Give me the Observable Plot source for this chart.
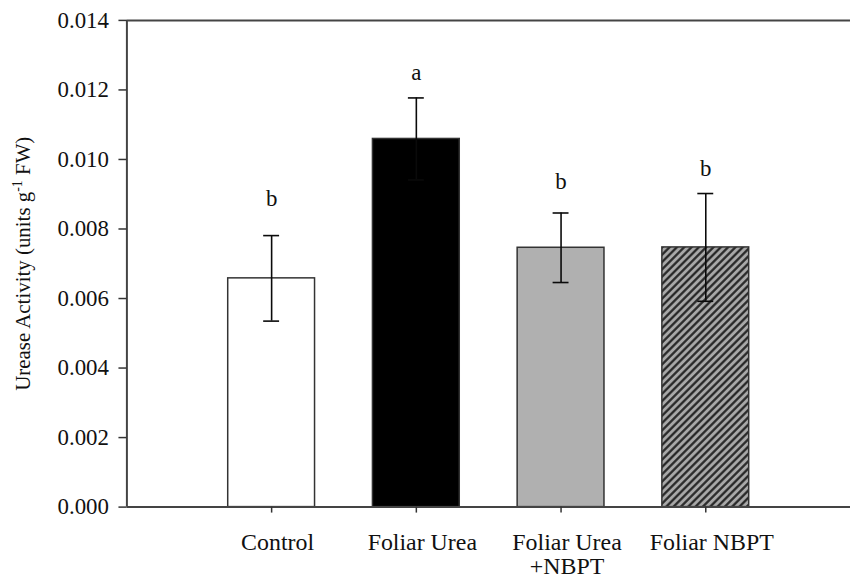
<!DOCTYPE html>
<html>
<head>
<meta charset="utf-8">
<script src="https://cdn.jsdelivr.net/npm/d3@7"></script>
<script src="https://cdn.jsdelivr.net/npm/@observablehq/plot@0.6"></script>
<style>
  html, body { margin: 0; padding: 0; background: #fff; overflow: hidden; }
  #chart { width: 850px; height: 582px; overflow: hidden; }
</style>
</head>
<body>
<svg width="0" height="0" style="position:absolute">
  <defs>
    <pattern id="hatch" patternUnits="userSpaceOnUse" width="5.2" height="5.2" patternTransform="rotate(45)">
      <rect x="0" y="0" width="5.2" height="5.2" fill="#a8a8a8"></rect>
      <line x1="1.3" y1="0" x2="1.3" y2="5.2" stroke="#222" stroke-width="2.2"></line>
    </pattern>
  </defs>
</svg>
<div id="chart"></div>
<script>
// ---- data ----
const categories = ["Control", "Foliar Urea", "Foliar Urea\n+NBPT", "Foliar NBPT"];
const means = [0.00658, 0.01059, 0.00746, 0.00747];
const errors = [0.00123, 0.00118, 0.00100, 0.00155];
const letters = ["b", "a", "b", "b"];
const letterY = [0.00887, 0.01249, 0.00937, 0.00973];
const yTicks = [0, 0.002, 0.004, 0.006, 0.008, 0.010, 0.012, 0.014];

// ---- styles ----
const barFills = ["#ffffff", "#000000", "#b0b0b0", "url(#hatch)"];
const halfBar = 0.3;
const halfCap = 0.055;
const serif = '"Liberation Serif", "Times New Roman", Times, serif';

const rows = categories.map((c, i) => ({
  pos: i + 1, name: c, mean: means[i], err: errors[i],
  letter: letters[i], ly: letterY[i], fill: barFills[i]
}));

const plot = Plot.plot({
  width: 854,
  height: 582,
  marginLeft: 127,
  marginRight: 0,
  marginTop: 20,
  marginBottom: 73,
  style: { fontFamily: serif, fontSize: "23px", color: "#111", background: "#fff", overflow: "visible" },
  x: { domain: [0, 5], axis: null },
  y: { domain: [0, 0.014], axis: null },
  color: { type: "identity" },
  marks: [
    Plot.rectY(rows, { x1: d => d.pos - halfBar, x2: d => d.pos + halfBar, y1: 0, y2: "mean", fill: "fill", stroke: "#333", strokeWidth: 1.5 }),
    Plot.ruleX(rows, { x: "pos", y1: d => d.mean - d.err, y2: d => d.mean + d.err, stroke: "#0a0a0a", strokeWidth: 1.6 }),
    Plot.ruleY(rows, { x1: d => d.pos - halfCap, x2: d => d.pos + halfCap, y: d => d.mean + d.err, stroke: "#0a0a0a", strokeWidth: 1.6 }),
    Plot.ruleY(rows, { x1: d => d.pos - halfCap, x2: d => d.pos + halfCap, y: d => d.mean - d.err, stroke: "#0a0a0a", strokeWidth: 1.6 }),
    Plot.text(rows, { x: "pos", y: "ly", text: "letter", fontSize: 23, fill: "#111" }),
    Plot.ruleX([0], { y1: 0, y2: 0.014, stroke: "#444", strokeWidth: 2 }),
    Plot.ruleY([0, 0.014], { x1: 0, x2: 5, stroke: "#444", strokeWidth: 2 }),
    Plot.axisY({ ticks: yTicks, tickFormat: d3.format(".3f"), tickSize: 8, tickPadding: 10, label: null, fontSize: 23, stroke: "#333", strokeWidth: 1.5, fill: "#111" }),
    Plot.axisX({ ticks: [1, 2, 3, 4], tickFormat: () => "", tickSize: 6, label: null, stroke: "#333", strokeWidth: 1.5 }),
    Plot.axisX({ ticks: [1, 2, 3, 4], tickFormat: i => categories[i - 1], tickSize: 0, tickPadding: 26, dx: 6, label: null, fontSize: 24, fill: "#111", lineHeight: 1 })
  ]
});

// y-axis title with superscript
const svg = d3.select(plot);
const t = svg.append("text")
  .attr("transform", "translate(30,265) rotate(-90)")
  .attr("text-anchor", "middle")
  .attr("font-family", serif)
  .attr("font-size", 21)
  .attr("fill", "#111");
t.append("tspan").text("Urease Activity (units g");
t.append("tspan").attr("font-size", 14).attr("dy", -8).text("-1");
t.append("tspan").attr("dy", 8).text(" FW)");

document.getElementById("chart").appendChild(plot);
</script>
</body>
</html>
